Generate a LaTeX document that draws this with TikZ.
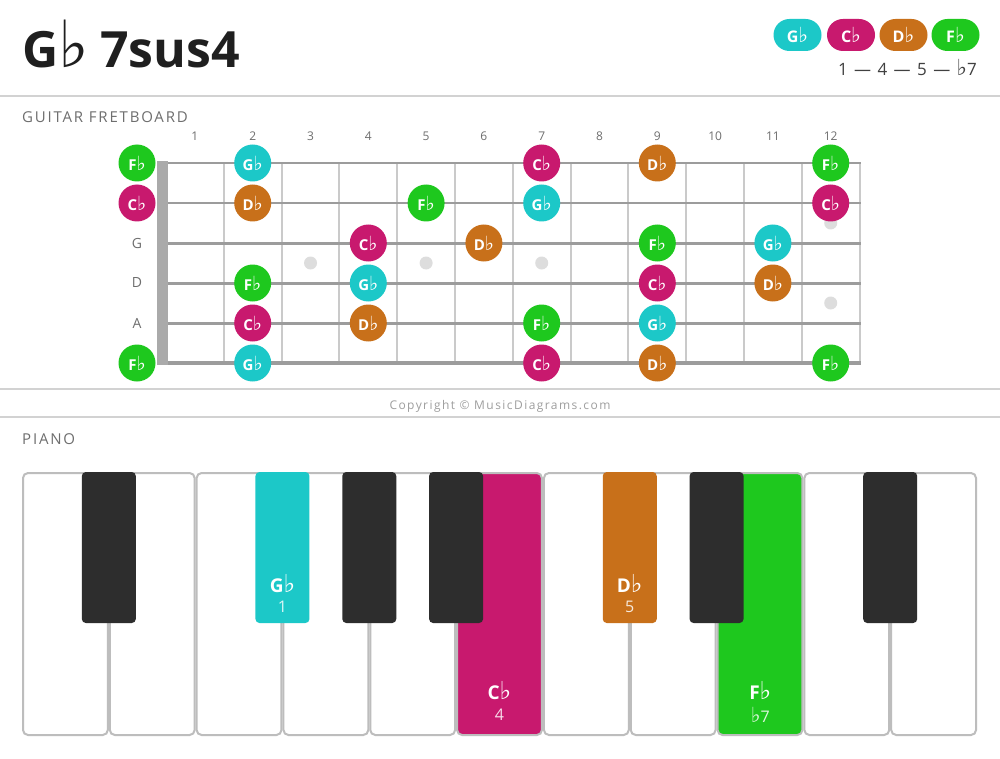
\documentclass[tikz,border=0pt]{standalone}
\usepackage{fontspec}
\usepackage{graphicx}
\setmainfont{Open Sans}
\newfontfamily\symf{DejaVu Sans}
\newfontfamily\spacedf[LetterSpace=12]{Open Sans}
\newfontfamily\spacedc[LetterSpace=12]{Open Sans}
\newcommand\fl{\scalebox{1.3}{\symf\mdseries\char"266D}}
\definecolor{cG}{HTML}{1CC8C8}
\definecolor{cC}{HTML}{C8196E}
\definecolor{cD}{HTML}{C8701A}
\definecolor{cF}{HTML}{1EC81E}
\definecolor{sepc}{HTML}{D2D2D2}
\definecolor{strc}{HTML}{9C9C9C}
\definecolor{fretc}{HTML}{CACACA}
\definecolor{nutc}{HTML}{AAAAAA}
\definecolor{dotc}{HTML}{DDDDDD}
\definecolor{lblc}{HTML}{6E6E6E}
\definecolor{keyb}{HTML}{BDBDBD}
\definecolor{blk}{HTML}{2D2D2D}
\tikzset{
  notec/.style={circle, minimum size=37, inner sep=0, text=white, font=\fontsize{15}{15}\selectfont\bfseries},
  pill/.style={rounded corners=16, minimum width=48, minimum height=32, inner sep=0, text=white, font=\fontsize{16}{16}\selectfont\bfseries},
  sepline/.style={draw=sepc, line width=2},
  fretline/.style={draw=fretc, line width=2},
  strline/.style={draw=strc},
  inlay/.style={circle, fill=dotc, minimum size=13, inner sep=0},
  fretnum/.style={text=lblc, font=\fontsize{12}{12}\selectfont, inner sep=0},
  strname/.style={text=lblc, font=\fontsize{14}{14}\selectfont, inner sep=0},
  section/.style={text=lblc, font=\fontsize{15}{15}\selectfont\spacedf, anchor=base west, inner sep=0},
  whitekey/.style={draw=keyb, line width=2, rounded corners=5},
  blackkey/.style={rounded corners=4},
  keyname/.style={text=white, font=\fontsize{19}{19}\selectfont\bfseries, inner sep=0},
  keydeg/.style={text=white, text opacity=0.85, font=\fontsize{16}{16}\selectfont, inner sep=0},
}
\begin{document}
\begin{tikzpicture}[x=1pt, y=-1pt]
\useasboundingbox (0,0) rectangle (1000,759);
\fill[white] (0,0) rectangle (1000,759);
% title
\node[anchor=base west, inner sep=0, text=black!88, font=\fontsize{50}{50}\selectfont\bfseries] (title) at (22,68) {G\fl\hspace{0.22em}7sus4};
% legend
\node[pill, fill=cG] (lg1) at (797.5,35) {G\fl};
\node[pill, fill=cC] (lg2) at (851,35) {C\fl};
\node[pill, fill=cD] (lg3) at (903.5,35) {D\fl};
\node[pill, fill=cF] (lg4) at (955.5,35) {F\fl};
\node[anchor=base east, inner sep=0, text=black!75, font=\fontsize{17}{17}\selectfont] (formula) at (977,76) {1\hspace{2pt} — \hspace{2pt}4\hspace{2pt} — \hspace{2pt}5\hspace{2pt} — \hspace{2pt}\fl7};
% separators
\draw[sepline] (0,96) -- (1000,96);
\draw[sepline] (0,389) -- (1000,389);
\draw[sepline] (0,417) -- (1000,417);
\node[section] (gtitle) at (22,123) {GUITAR FRETBOARD};
\node[anchor=center, inner sep=0, text=black!38, font=\fontsize{12}{12}\selectfont\spacedc] (copy) at (500,406) {Copyright © MusicDiagrams.com};
\node[section] (ptitle) at (22,444) {PIANO};
% frets
\foreach \k in {1,...,12} {
  \draw[fretline] ({166+57.8*\k},163) -- ({166+57.8*\k},363);
  \node[fretnum] (fn\k) at ({166+57.8*(\k-0.5)},136) {\k};
}
% inlays
\foreach \k in {3,5,7} \node[inlay] (dot\k) at ({166+57.8*(\k-0.5)},263) {};
\node[inlay] (dot12a) at ({166+57.8*11.5},223) {};
\node[inlay] (dot12b) at ({166+57.8*11.5},303) {};
% strings
\foreach \i/\w in {0/2.5,1/2.5,2/3,3/3,4/3,5/3.5} \draw[strline, line width=\w] (157,{163+40*\i}) -- (861,{163+40*\i});
% nut
\fill[nutc] (157,161.5) rectangle (168,364.5);
% string names
\node[strname] (sG) at (137,243) {G};
\node[strname] (sD) at (137,283) {D};
\node[strname] (sA) at (137,323) {A};
% notes: fret/string/name/colour
\foreach \f/\s/\n/\c in {
  0/0/F/cF, 2/0/G/cG, 7/0/C/cC, 9/0/D/cD, 12/0/F/cF,
  0/1/C/cC, 2/1/D/cD, 5/1/F/cF, 7/1/G/cG, 12/1/C/cC,
  4/2/C/cC, 6/2/D/cD, 9/2/F/cF, 11/2/G/cG,
  2/3/F/cF, 4/3/G/cG, 9/3/C/cC, 11/3/D/cD,
  2/4/C/cC, 4/4/D/cD, 7/4/F/cF, 9/4/G/cG,
  0/5/F/cF, 2/5/G/cG, 7/5/C/cC, 9/5/D/cD, 12/5/F/cF} {
  \pgfmathsetmacro\xx{\f==0 ? 137 : 166+57.8*(\f-0.5)}
  \node[notec, fill=\c] (n\f-\s) at (\xx,{163+40*\s}) {\n\fl};
}
% piano white keys
\foreach \i/\c in {0/white,1/white,2/white,3/white,4/white,5/cC,6/white,7/white,8/cF,9/white,10/white} {
  \filldraw[whitekey, fill=\c] ({22+86.82*\i+1},473) rectangle ({22+86.82*(\i+1)-1},735);
}
% black keys
\foreach \b/\c in {1/blk,3/cG,4/blk,5/blk,7/cD,8/blk,10/blk} {
  \fill[blackkey, \c] ({22+86.82*\b-27},472) rectangle ({22+86.82*\b+27},623);
}
% key labels
\node[keyname] (kG) at (282.5,584) {G\fl};
\node[keydeg] (kG1) at (282.5,607) {1};
\node[keyname] (kC) at (499.5,691) {C\fl};
\node[keydeg] (kC4) at (499.5,715) {4};
\node[keyname] (kD) at (629.7,584) {D\fl};
\node[keydeg] (kD5) at (629.7,607) {5};
\node[keyname] (kF) at (760.3,691) {F\fl};
\node[keydeg] (kF7) at (760.3,715) {\fl7};
\end{tikzpicture}
\end{document}
